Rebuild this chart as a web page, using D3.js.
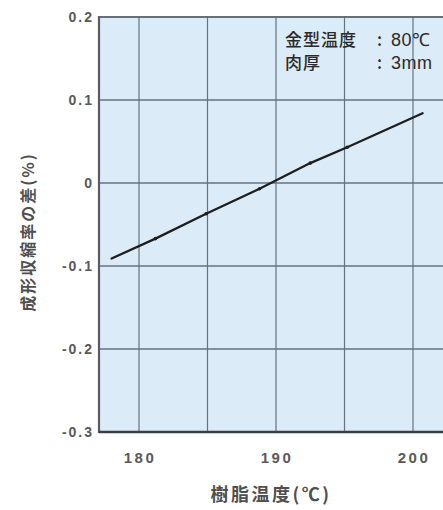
<!DOCTYPE html>
<html>
<head>
<meta charset="utf-8">
<script src="https://cdn.jsdelivr.net/npm/d3@7"></script>
<style>
  html, body { margin: 0; padding: 0; background: #fff; overflow: hidden; }
  svg { display: block; }
</style>
</head>
<body>
<div id="chart"></div>
<script>
// Resin temperature (°C) vs. difference in molding shrinkage (%)
const resinTemp = [178, 181.2, 184.9, 188.8, 192.5, 195.2, 200.7];
const shrinkDiff = [-0.091, -0.067, -0.037, -0.007, 0.024, 0.043, 0.084];
const yTicks = [0.2, 0.1, 0, -0.1, -0.2, -0.3];
const yTickLabels = ["0.2", "0.1", "0", "-0.1", "-0.2", "-0.3"];
const xGrid = [180, 185, 190, 195, 200, 205];
const xTicks = [180, 190, 200];
const xTickLabels = ["180", "190", "200"];
const noteLabels = ["金型温度", "肉厚"];
const noteValues = ["80℃", "3mm"];

const W = 443, H = 510;
const plotLeft = 99, plotTop = 17, plotBottom = 432;
const x = d3.scaleLinear().domain([180, 200]).range([139, 413]);
const y = d3.scaleLinear().domain([-0.3, 0.2]).range([plotBottom, plotTop]);
const plotRight = x(205);

const svg = d3.select("#chart").append("svg")
  .attr("width", W).attr("height", H);

// plot background
svg.append("rect")
  .attr("x", plotLeft).attr("y", plotTop)
  .attr("width", plotRight - plotLeft).attr("height", plotBottom - plotTop)
  .attr("fill", "#dcebf8");

const gridColor = "#65737e";

// horizontal grid
svg.append("g").selectAll("line").data(yTicks).join("line")
  .attr("x1", plotLeft).attr("x2", plotRight)
  .attr("y1", d => y(d)).attr("y2", d => y(d))
  .attr("stroke", gridColor).attr("stroke-width", 1.3);

// vertical grid
svg.append("g").selectAll("line").data(xGrid).join("line")
  .attr("x1", d => x(d)).attr("x2", d => x(d))
  .attr("y1", plotTop).attr("y2", plotBottom)
  .attr("stroke", gridColor).attr("stroke-width", 1.2);

// frame: left, bottom and top edges
svg.append("line").attr("x1", plotLeft).attr("x2", plotLeft).attr("y1", plotTop - 1).attr("y2", plotBottom + 1)
  .attr("stroke", "#555e66").attr("stroke-width", 2.2);
svg.append("line").attr("x1", plotLeft).attr("x2", plotRight).attr("y1", plotBottom).attr("y2", plotBottom)
  .attr("stroke", "#3a3d40").attr("stroke-width", 2.6);
svg.append("line").attr("x1", plotLeft).attr("x2", plotRight).attr("y1", plotTop).attr("y2", plotTop)
  .attr("stroke", "#5a646c").attr("stroke-width", 1.5);

const labelFont = "'Liberation Sans', Arial, sans-serif";

// y tick labels
svg.append("g").selectAll("text").data(yTicks).join("text")
  .attr("x", 94).attr("y", d => y(d) + 5)
  .attr("text-anchor", "end")
  .attr("font-family", labelFont).attr("font-size", 14).attr("font-weight", "bold")
  .attr("letter-spacing", 2)
  .attr("fill", "#595959")
  .text((d, i) => yTickLabels[i]);

// x tick labels
svg.append("g").selectAll("text").data(xTicks).join("text")
  .attr("x", d => x(d) + 1).attr("y", 463)
  .attr("text-anchor", "middle")
  .attr("font-family", labelFont).attr("font-size", 15).attr("font-weight", "bold")
  .attr("letter-spacing", 2.5)
  .attr("fill", "#595959")
  .text((d, i) => xTickLabels[i]);

// axis titles
const cjk = "'Noto Sans CJK JP', 'Noto Sans', sans-serif";
svg.append("text")
  .attr("x", 271).attr("y", 501)
  .attr("text-anchor", "middle")
  .attr("font-family", cjk).attr("font-size", 18).attr("font-weight", "bold")
  .attr("letter-spacing", 2.5)
  .attr("fill", "#4f4f4f")
  .text("樹脂温度(℃)");

svg.append("text")
  .attr("transform", "translate(34,232) rotate(-90)")
  .attr("text-anchor", "middle")
  .attr("font-family", cjk).attr("font-size", 16).attr("font-weight", "bold")
  .attr("letter-spacing", 2)
  .attr("fill", "#4f4f4f")
  .text("成形収縮率の差(%)");

// condition note
const note = svg.append("g").attr("font-family", cjk).attr("font-size", 17)
  .attr("font-weight", 500).attr("fill", "#2a2a2a");
noteLabels.forEach((lab, i) => {
  const ty = 46 + i * 23;
  note.append("text").attr("x", 285).attr("y", ty).attr("letter-spacing", 1).text(lab);
  note.append("text").attr("x", 377).attr("y", ty).text(":");
  note.append("text").attr("x", 391).attr("y", ty)
    .attr("font-family", "'Liberation Sans', Arial, sans-serif")
    .attr("font-size", 18).attr("letter-spacing", 0.5)
    .text(noteValues[i]);
});

// data line
const pts = resinTemp.map((t, i) => [t, shrinkDiff[i]]);
svg.append("path")
  .datum(pts)
  .attr("d", d3.line().x(d => x(d[0])).y(d => y(d[1])))
  .attr("fill", "none")
  .attr("stroke", "#1e1e1e")
  .attr("stroke-width", 2.3)
  .attr("stroke-linecap", "round");

// small point markers along the line
svg.append("g").selectAll("circle").data(pts.slice(1, -1)).join("circle")
  .attr("cx", d => x(d[0])).attr("cy", d => y(d[1]))
  .attr("r", 1.8).attr("fill", "#1e1e1e");
</script>
</body>
</html>
